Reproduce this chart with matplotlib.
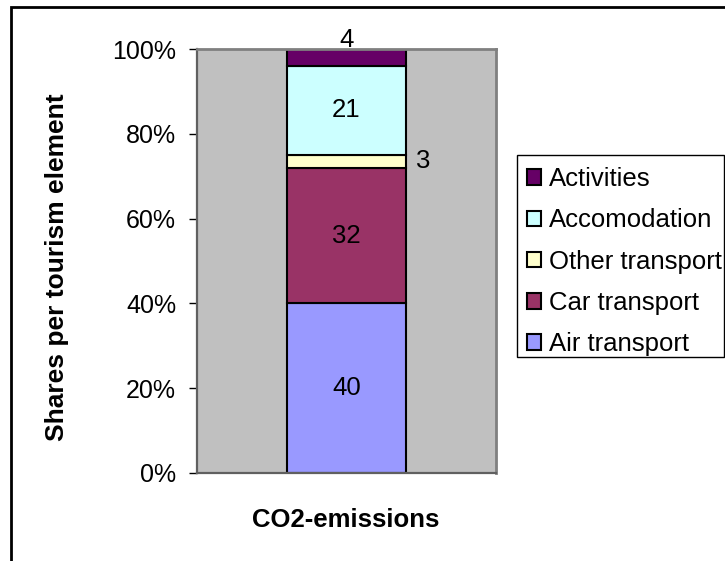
import matplotlib.pyplot as plt
from matplotlib.patches import Rectangle

# data, bottom to top of the stacked bar
categories = ["Air transport", "Car transport", "Other transport", "Accomodation", "Activities"]
shares = [40, 32, 3, 21, 4]
colors = ["#9999FF", "#993366", "#FFFFCC", "#CCFFFF", "#660066"]
bar_label = "CO2-emissions"
y_ticks = [0, 20, 40, 60, 80, 100]
y_tick_labels = ["0%", "20%", "40%", "60%", "80%", "100%"]

plt.rcParams['font.family'] = ['Liberation Sans', 'DejaVu Sans']
fs = 18.5

fig = plt.figure(figsize=(7.25, 5.61), dpi=100)
ax = fig.add_axes([197 / 725, 1 - 473 / 561, 299 / 725, 424 / 561])
ax.set_facecolor("#C0C0C0")

bottom = 0
handles = []
for cat, val, col in zip(categories, shares, colors):
    b = ax.bar(0, val, width=0.40, bottom=bottom, color=col, edgecolor="black",
               linewidth=1.5, label=cat)
    handles.append(b)
    mid = bottom + val / 2
    if val >= 10:
        ax.text(0, mid, str(val), ha="center", va="center", fontsize=fs)
    elif cat == "Other transport":
        ax.text(0.258, mid, str(val), ha="center", va="center", fontsize=fs)
    else:
        ax.text(0, bottom + val + 2.2, str(val), ha="center", va="center", fontsize=fs,
                clip_on=False)
    bottom += val

ax.set_xlim(-0.5, 0.5)
ax.set_ylim(0, 100)
ax.set_xticks([])
ax.set_yticks(y_ticks)
ax.set_yticklabels(y_tick_labels, fontsize=18)
ax.tick_params(axis="y", length=6, width=1, pad=9, color="black")

for side in ["top", "right"]:
    ax.spines[side].set_color("#808080")
    ax.spines[side].set_linewidth(2)
for side in ["left", "bottom"]:
    ax.spines[side].set_color("#606060")
    ax.spines[side].set_linewidth(1.6)

fig.text(346 / 725, 1 - 520 / 561, bar_label, ha="center", va="center",
         fontsize=fs, fontweight="bold")
fig.text(57 / 725, 1 - 267 / 561, "Shares per tourism element", ha="center", va="center",
         rotation=90, fontsize=19, fontweight="bold")

leg = fig.legend(handles[::-1], categories[::-1], loc="upper left",
                 bbox_to_anchor=(517 / 725, 1 - 157 / 561), fontsize=fs,
                 frameon=False,
                 handlelength=0.55, handleheight=0.55, handletextpad=0.3,
                 labelspacing=0.67, borderpad=0.4, borderaxespad=0)

# legend frame
fig.patches.append(Rectangle((517 / 725, 1 - 357 / 561), 207 / 725, 202 / 561,
                             transform=fig.transFigure, facecolor="white",
                             edgecolor="black", linewidth=1, zorder=0))

# outer chart border (cut off on the right and bottom)
fig.patches.append(Rectangle((11 / 725, -0.1), 1.2, 1.1 - 7 / 561,
                             transform=fig.transFigure, fill=False,
                             edgecolor="black", linewidth=2))

fig.savefig("out.png", dpi=100)
